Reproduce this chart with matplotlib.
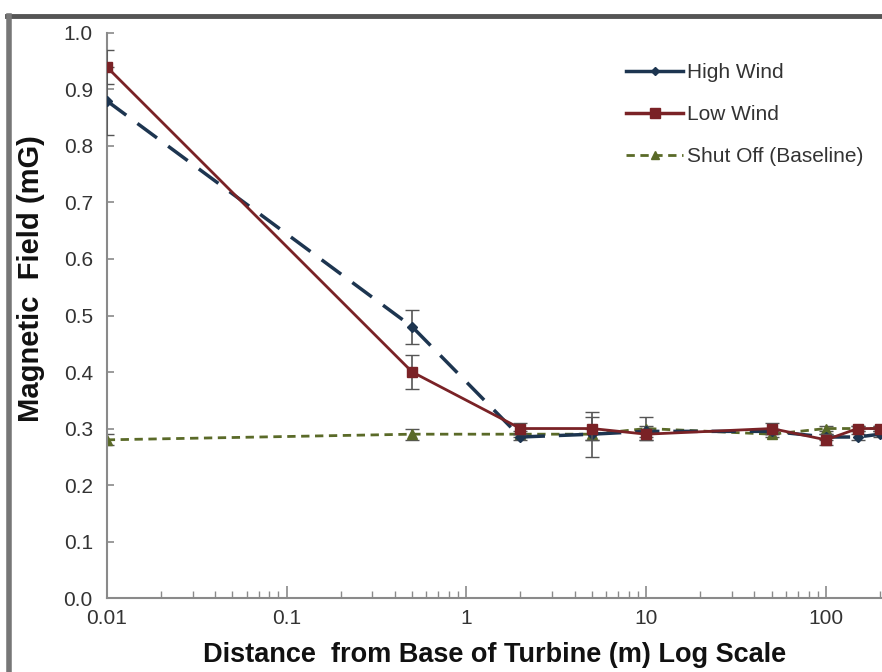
import matplotlib
matplotlib.use('Agg')
import matplotlib.pyplot as plt
from matplotlib.lines import Line2D
from matplotlib.ticker import LogLocator, NullFormatter

plt.rcParams['font.family'] = ['Liberation Sans', 'DejaVu Sans']

# data
distance = [0.01, 0.5, 2, 5, 10, 50, 100, 150, 200]
high_wind = [0.88, 0.48, 0.285, 0.29, 0.295, 0.295, 0.285, 0.285, 0.29]
high_err = [0.06, 0.03, 0.005, 0.04, 0.01, 0.005, 0.005, 0.005, 0.005]
low_wind = [0.94, 0.40, 0.30, 0.30, 0.29, 0.30, 0.28, 0.30, 0.30]
low_err = [0.03, 0.03, 0.01, 0.02, 0.01, 0.01, 0.01, 0.005, 0.005]
shut_off = [0.28, 0.29, 0.29, 0.29, 0.30, 0.29, 0.30, 0.30, 0.30]
shut_err = [0.01, 0.01, 0.005, 0.01, 0.02, 0.005, 0.005, 0.005, 0.005]

c_high = '#1d3550'
c_low = '#7a2226'
c_shut = '#5a6a28'

fig = plt.figure(figsize=(8.82, 6.72), dpi=100)
ax = fig.add_axes([0.121, 0.110, 0.879, 0.841])

ax.errorbar(distance, shut_off, yerr=shut_err, color=c_shut, ls=(0, (3, 2)), lw=2,
            marker='^', ms=7, ecolor='#555555', elinewidth=1.2, capsize=5, zorder=2)
ax.errorbar(distance, high_wind, yerr=high_err, color=c_high, ls=(0, (7, 4)), lw=2.5,
            marker='D', ms=5, ecolor='#555555', elinewidth=1.2, capsize=5, zorder=3)
ax.errorbar(distance, low_wind, yerr=low_err, color=c_low, ls='-', lw=2,
            marker='s', ms=7, ecolor='#555555', elinewidth=1.2, capsize=5, zorder=4)

ax.set_xscale('log')
ax.set_xlim(0.01, 205)
ax.set_ylim(0, 1.0)
ax.set_yticks([i / 10 for i in range(11)])
ax.set_yticklabels(['%.1f' % (i / 10) for i in range(11)])
ax.set_xticks([0.01, 0.1, 1, 10, 100])
ax.set_xticklabels(['0.01', '0.1', '1', '10', '100'])
ax.xaxis.set_minor_locator(LogLocator(base=10, subs=range(2, 10)))
ax.xaxis.set_minor_formatter(NullFormatter())

for s in ['top', 'right']:
    ax.spines[s].set_visible(False)
for s in ['left', 'bottom']:
    ax.spines[s].set_color('#8a8a8a')
    ax.spines[s].set_linewidth(1.5)
ax.tick_params(axis='y', colors='#8a8a8a', labelcolor='#333333', labelsize=15,
               direction='in', length=5, width=1.2, pad=10)
ax.tick_params(axis='x', which='major', colors='#8a8a8a', labelcolor='#333333',
               labelsize=15, direction='in', length=9, width=1.2, pad=8)
ax.tick_params(axis='x', which='minor', colors='#8a8a8a', direction='in', length=5, width=1)

ax.set_xlabel('Distance  from Base of Turbine (m) Log Scale', fontsize=19.5,
              fontweight='bold', color='#111111', labelpad=10)
ax.set_ylabel('Magnetic  Field (mG)', fontsize=21, fontweight='bold',
              color='#111111')
ax.yaxis.set_label_coords(-0.079, 0.566)

handles = [
    Line2D([], [], color=c_high, lw=2.5, marker='D', ms=4),
    Line2D([], [], color=c_low, lw=2.5, marker='s', ms=7),
    Line2D([], [], color=c_shut, lw=2, ls=(0, (3, 2)), marker='^', ms=6),
]
ax.legend(handles, ['High Wind', 'Low Wind', 'Shut Off (Baseline)'],
          loc='upper right', bbox_to_anchor=(1.0, 0.98), frameon=False,
          fontsize=15, handlelength=2.7, labelspacing=1.1, handletextpad=0.2,
          labelcolor='#333333')

# screenshot frame around the chart
fig.add_artist(Line2D([0.008, 1.0], [0.976, 0.976], color='#555555', lw=3.5,
                      transform=fig.transFigure))
fig.add_artist(Line2D([0.010, 0.010], [0.0, 0.976], color='#777777', lw=4,
                      transform=fig.transFigure))

fig.savefig('out.png', dpi=100)
